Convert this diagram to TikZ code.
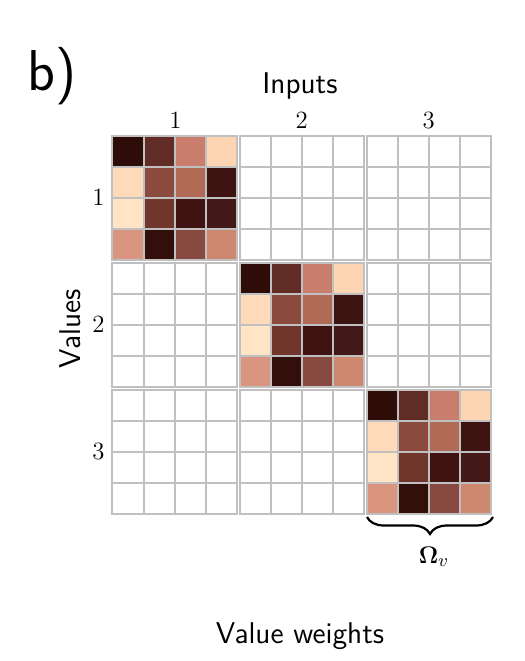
\documentclass[tikz,border=0pt]{standalone}
\usepackage{amsmath}
\usepackage{fontspec}
\usetikzlibrary{decorations.pathreplacing}
\definecolor{gridgray}{HTML}{C0C0C0}
\definecolor{c11}{HTML}{2E0D08}
\definecolor{c12}{HTML}{612C25}
\definecolor{c13}{HTML}{C97D6D}
\definecolor{c14}{HTML}{FDD5B3}
\definecolor{c21}{HTML}{FEDABA}
\definecolor{c22}{HTML}{8A4A3D}
\definecolor{c23}{HTML}{B06A56}
\definecolor{c24}{HTML}{3E1413}
\definecolor{c31}{HTML}{FFE4C6}
\definecolor{c32}{HTML}{70352B}
\definecolor{c33}{HTML}{3E1312}
\definecolor{c34}{HTML}{431818}
\definecolor{c41}{HTML}{D99580}
\definecolor{c42}{HTML}{320F0A}
\definecolor{c43}{HTML}{884A40}
\definecolor{c44}{HTML}{CF8870}
\begin{document}
\begin{tikzpicture}[x=0.5pt,y=-0.5pt,
  cellbox/.style={draw=gridgray,line width=1pt},
  sanslabel/.style={font=\fontsize{15}{18}\sffamily,inner sep=0pt},
  numlabel/.style={font=\fontsize{12.4}{14}\selectfont,inner sep=0pt}]
\useasboundingbox (0,0) rectangle (525,661);
\foreach \bi in {0,1,2}{
  \foreach \bj in {0,1,2}{
    \foreach \r in {1,2,3,4}{
      \foreach \c in {1,2,3,4}{
        \ifnum\bi=\bj \def\fc{c\r\c}\else\def\fc{white}\fi
        \pgfmathsetmacro{\xa}{112.5+\bj*127.05+(\c-1)*31.08}
        \pgfmathsetmacro{\ya}{135.5+\bi*127.1+(\r-1)*31.08}
        \filldraw[cellbox,fill=\fc] (\xa,\ya) rectangle ++(31.08,31.08);
      }
    }
  }
}
\node[font=\fontsize{28.8}{34}\sffamily,inner sep=0pt,anchor=base west] (panel) at (27,90) {b)};
\node[sanslabel,anchor=base] (inputs) at (300,93) {Inputs};
\node[numlabel,anchor=base] (col1) at (175.5,128) {1};
\node[numlabel,anchor=base] (col2) at (301.6,128) {2};
\node[numlabel,anchor=base] (col3) at (428.7,128) {3};
\node[numlabel,anchor=east] (row1) at (105,197.5) {1};
\node[numlabel,anchor=east] (row2) at (105,324.6) {2};
\node[numlabel,anchor=east] (row3) at (105,451.7) {3};
\node[sanslabel,rotate=90,anchor=center] (values) at (70,329) {Values};
\node[sanslabel,anchor=base] (vweights) at (300,643) {Value weights};
\coordinate (bl) at (367,517);
\coordinate (br) at (493,517);
\draw[line width=1.1pt,decorate,decoration={brace,mirror,amplitude=8.5pt}] (bl) -- (br);
\node[font=\fontsize{13}{15}\selectfont,inner sep=0pt,anchor=base] (omega) at (434,563) {$\boldsymbol{\Omega}_v$};
\end{tikzpicture}
\end{document}
